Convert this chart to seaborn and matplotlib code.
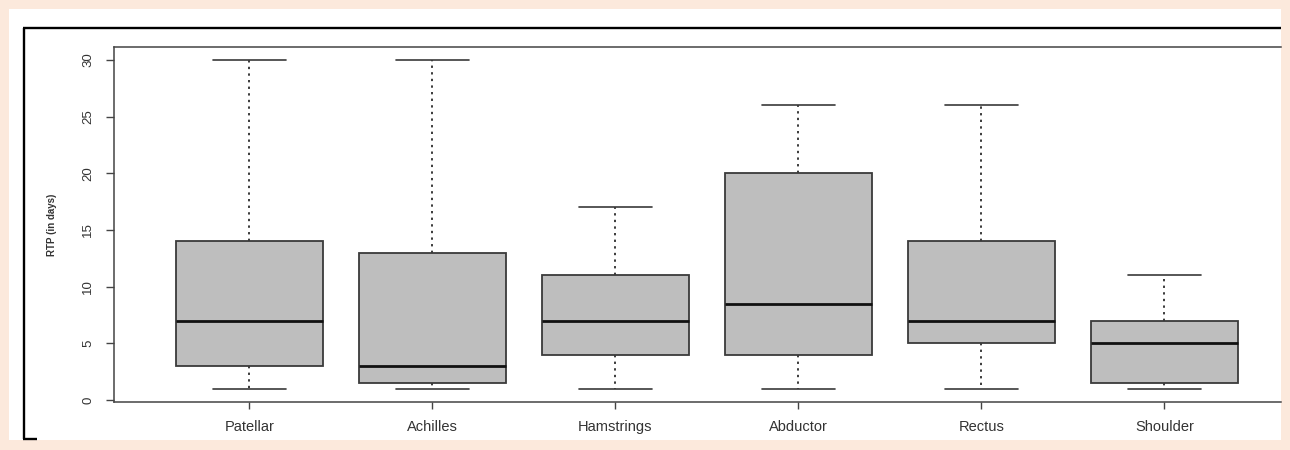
import numpy as np
import pandas as pd
import matplotlib
matplotlib.use("Agg")
import matplotlib.pyplot as plt
from matplotlib.lines import Line2D
from matplotlib.patches import Rectangle
import seaborn as sns

# Return-to-play (days) five-number summaries per injury site
sites = ["Patellar", "Achilles", "Hamstrings", "Abductor", "Rectus", "Shoulder"]
mins = [1, 1, 1, 1, 1, 1]
q1s = [3, 1.5, 4, 4, 5, 1.5]
medians = [7, 3, 7, 8.5, 7, 5]
q3s = [14, 13, 11, 20, 14, 7]
maxs = [30, 30, 17, 26, 26, 11]
y_ticks = [0, 5, 10, 15, 20, 25, 30]

# Long-form table: five observations per site reproduce each summary exactly
rows = []
for s, a, b, c, d, e in zip(sites, mins, q1s, medians, q3s, maxs):
    for v in (a, b, c, d, e):
        rows.append({"site": s, "days": v})
df = pd.DataFrame(rows)

sns.set_theme(style="white")
plt.rcParams["font.family"] = ["Liberation Sans", "DejaVu Sans"]

W, H = 1290, 450
fig = plt.figure(figsize=(W / 100, H / 100), dpi=100, facecolor="#FCE9DC")


def fx(px):
    return px / W


def fy(py):
    return 1 - py / H


# White panel and partial black frame
fig.add_artist(Rectangle((fx(9), fy(440)), fx(1281) - fx(9), fy(9) - fy(440),
                         transform=fig.transFigure, facecolor="white",
                         edgecolor="none", zorder=0))
frame_kw = dict(transform=fig.transFigure, color="black", lw=1.7, zorder=1,
                solid_capstyle="butt")
fig.add_artist(Line2D([fx(23), fx(1281)], [fy(28.3), fy(28.3)], **frame_kw))
fig.add_artist(Line2D([fx(24), fx(24)], [fy(27.5), fy(439)], **frame_kw))
fig.add_artist(Line2D([fx(23), fx(37)], [fy(438.5), fy(438.5)], **frame_kw))

ax = fig.add_axes([fx(113.5), fy(402), fx(1281) - fx(113.5), fy(47) - fy(402)])
ax.set_facecolor("white")

edge = "#3a3a3a"
sns.boxplot(
    data=df, x="site", y="days", order=sites, ax=ax,
    color="#BEBEBE", saturation=1, width=0.8, whis=(0, 100),
    showfliers=False, linecolor=edge, linewidth=1.2,
    boxprops=dict(edgecolor=edge, linewidth=1.3),
    medianprops=dict(color="#111111", linewidth=2.0),
    whiskerprops=dict(color=edge, linewidth=1.4, linestyle=(0, (1.2, 2.2))),
    capprops=dict(color=edge, linewidth=1.2),
)

ax.set_xlim(-0.743, 5.637)
ax.set_ylim(-0.18, 31.15)
ax.set_yticks(y_ticks)
ax.set_yticklabels([str(t) for t in y_ticks], rotation=90, va="center",
                   fontsize=9.5, color="#333333")
ax.set_xticks(range(len(sites)))
ax.set_xticklabels(sites, fontsize=10.5, color="#333333")
ax.set_xlabel("")
ax.set_ylabel("RTP (in days)", fontsize=7, color="#333333", labelpad=18,
              fontweight="semibold")

ax.tick_params(axis="y", left=True, length=6, width=1, color="#444444", pad=8)
ax.tick_params(axis="x", bottom=True, length=5, width=1, color="#444444", pad=8)

for side in ("left", "top", "bottom"):
    ax.spines[side].set_visible(True)
    ax.spines[side].set_color("#444444")
    ax.spines[side].set_linewidth(1.1)
ax.spines["right"].set_visible(False)

fig.savefig("out.png", dpi=100, facecolor=fig.get_facecolor())
